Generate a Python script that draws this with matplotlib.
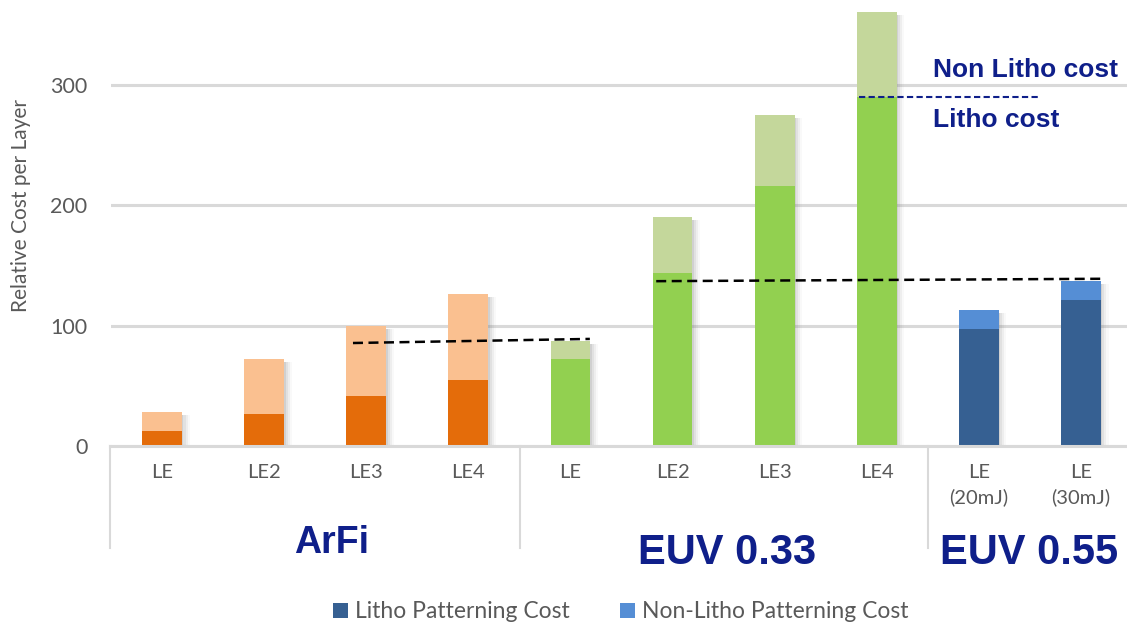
import matplotlib
matplotlib.use("Agg")
import matplotlib.pyplot as plt
from matplotlib.lines import Line2D
from matplotlib.patches import Patch

# ---------------- data ----------------
categories = ['LE', 'LE2', 'LE3', 'LE4', 'LE', 'LE2', 'LE3', 'LE4', 'LE\n(20mJ)', 'LE\n(30mJ)']
groups = ['ArFi', 'EUV 0.33', 'EUV 0.55']
group_of_bar = [0, 0, 0, 0, 1, 1, 1, 1, 2, 2]
litho_cost = [12.5, 27, 41.5, 55, 72, 143.5, 216.5, 290, 97, 121]
non_litho_cost = [16, 45, 58.5, 71, 15.5, 46.5, 58.5, 71, 16, 16]
yticks = [0, 100, 200, 300]

# reference dashed lines: (x0, x1, y0, y1)
arfi_ref = (1.87, 4.19, 85.6, 89.0)
euv_ref = (4.84, 9.22, 137.0, 139.0)
split_ref = (6.83, 8.59, 290.0, 290.0)

dark_colors = ['#e46c0a', '#92d050', '#366092']
light_colors = ['#fac090', '#c4d79b', '#558ed5']
navy = '#0f1f8a'
gray_text = '#595959'
grid_col = '#d9d9d9'

W, H = 1127, 624
fig = plt.figure(figsize=(W / 100, H / 100), dpi=100)

def fx(px):
    return px / W

def fy(py):
    return 1 - py / H

ax_left, ax_right = 111, 1132
ax_bottom, ax_top = 446, 0
ax = fig.add_axes([fx(ax_left), fy(ax_bottom), (ax_right - ax_left) / W, (ax_bottom - ax_top) / H])
ax.set_xlim(-0.5, 9.5)
ax.set_ylim(0, 370.7)

x = list(range(len(categories)))
bw = 0.39
tops = [a + b for a, b in zip(litho_cost, non_litho_cost)]

# soft shadows to the right of the bars
for off, al in [(0.015, 0.16), (0.035, 0.12), (0.055, 0.08), (0.075, 0.045)]:
    ax.bar([xi + off for xi in x], [t - 2.5 for t in tops], width=bw, color='#7f7f7f',
           alpha=al, linewidth=0, zorder=1)

dc = [dark_colors[g] for g in group_of_bar]
lc = [light_colors[g] for g in group_of_bar]
ax.bar(x, litho_cost, width=bw, color=dc, linewidth=0, zorder=3)
ax.bar(x, non_litho_cost, bottom=litho_cost, width=bw, color=lc, linewidth=0, zorder=3)

# grid & axes styling
for s in ax.spines.values():
    s.set_visible(False)
ax.set_yticks(yticks)
ax.yaxis.grid(True, color=grid_col, linewidth=2.2, zorder=0)
ax.set_axisbelow(True)
ax.tick_params(axis='y', length=0, pad=17, labelsize=15.5, labelcolor=gray_text)
ax.tick_params(axis='x', length=0, pad=13, labelsize=14.5, labelcolor=gray_text)
for lab in ax.get_yticklabels():
    lab.set_family('Lato')
ax.set_xticks(x)
ax.set_xticklabels(categories, family='Lato', linespacing=1.45, va='top')
ax.set_ylabel('Relative Cost per Layer', fontsize=15, color=gray_text, family='Lato')
ax.yaxis.set_label_coords((31 - ax_left) / (ax_right - ax_left), (ax_bottom - 205) / ax_bottom)

# dashed reference lines
ax.plot(arfi_ref[:2], arfi_ref[2:], color='black', linestyle=(0, (4, 2.2)), linewidth=1.8, zorder=5)
ax.plot(euv_ref[:2], euv_ref[2:], color='black', linestyle=(0, (4, 2.2)), linewidth=1.8, zorder=5)
ax.plot(split_ref[:2], split_ref[2:], color=navy, linestyle=(0, (3, 1.6)), linewidth=1.5, zorder=5)

ax.text(7.55, 312.5, 'Non Litho cost', color=navy, fontsize=19, fontweight='bold',
        family='Liberation Sans', va='center', ha='left')
ax.text(7.55, 271, 'Litho cost', color=navy, fontsize=19, fontweight='bold',
        family='Liberation Sans', va='center', ha='left')

# category axis line & group separators (below the plot)
fig.add_artist(Line2D([fx(110), fx(1127)], [fy(446), fy(446)], color=grid_col, linewidth=2.2))
for sx in [110, 520, 928]:
    fig.add_artist(Line2D([fx(sx), fx(sx)], [fy(446), fy(548)], color=grid_col, linewidth=1.5))

group_pos = [(332, 543, 27), (727, 553, 30), (1029, 553, 30)]
for name, (gx, gy, fs) in zip(groups, group_pos):
    fig.text(fx(gx), fy(gy), name, color=navy, fontsize=fs, fontweight='bold',
             family='Liberation Sans', ha='center', va='center')

# legend
handles = [Patch(facecolor=dark_colors[2]), Patch(facecolor=light_colors[2])]
leg = fig.legend(handles, ['Litho Patterning Cost', 'Non-Litho Patterning Cost'],
                 loc='center', bbox_to_anchor=(fx(621), fy(612)), ncol=2, frameon=False,
                 prop={'family': 'Lato', 'size': 16.5}, handlelength=0.65, handleheight=0.65,
                 handletextpad=0.3, columnspacing=2.2, labelcolor=gray_text,
                 borderpad=0.0)

fig.savefig('out.png', dpi=100)
